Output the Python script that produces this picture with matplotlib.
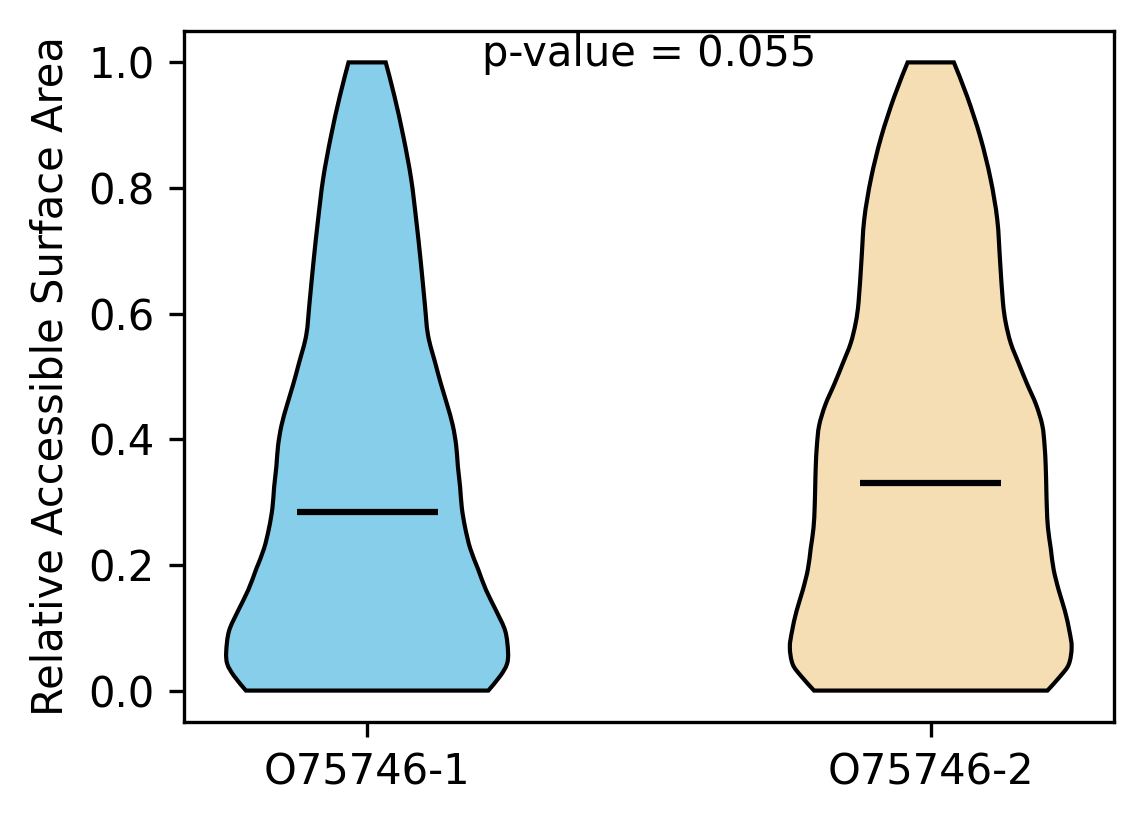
import matplotlib
matplotlib.use("Agg")
import matplotlib.pyplot as plt
from matplotlib.path import Path
from matplotlib.patches import PathPatch
import numpy as np

# labels / colours of the two groups
labels = ["O75746-1", "O75746-2"]
colors = ["#87CEEB", "#F5DEB3"]
medians = [0.285, 0.331]
p_value = 0.055

# violin outlines: RSA level -> half width (x units)
y_left = [0.0, 0.023, 0.042, 0.062, 0.095, 0.127, 0.160, 0.193, 0.226, 0.259,
          0.291, 0.324, 0.357, 0.390, 0.422, 0.455, 0.488, 0.521, 0.566, 0.619,
          0.684, 0.750, 0.815, 0.881, 0.946, 1.0]
hw_left = [0.215, 0.236, 0.248, 0.250, 0.245, 0.229, 0.211, 0.197, 0.183, 0.174,
           0.168, 0.165, 0.161, 0.158, 0.152, 0.142, 0.131, 0.121, 0.108, 0.102,
           0.095, 0.087, 0.078, 0.0645, 0.0485, 0.033]

y_right = [0.0, 0.023, 0.042, 0.069, 0.095, 0.127, 0.160, 0.193, 0.226, 0.259,
           0.291, 0.324, 0.357, 0.390, 0.422, 0.455, 0.488, 0.521, 0.553, 0.586,
           0.619, 0.684, 0.750, 0.815, 0.881, 0.946, 1.0]
hw_right = [0.207, 0.230, 0.245, 0.250, 0.246, 0.238, 0.227, 0.218, 0.213, 0.208,
            0.206, 0.205, 0.204, 0.202, 0.198, 0.187, 0.171, 0.156, 0.142, 0.133,
            0.128, 0.123, 0.118, 0.106, 0.088, 0.0645, 0.041]

profiles = [(y_left, hw_left), (y_right, hw_right)]
positions = [1, 2]


def smooth_side(pts):
    # catmull-rom through the read points, as cubic bezier path pieces
    pts = np.asarray(pts, dtype=float)
    ext = np.vstack([pts[0], pts, pts[-1]])
    verts, codes = [], []
    for i in range(1, len(ext) - 2):
        p0, p1, p2, p3 = ext[i - 1], ext[i], ext[i + 1], ext[i + 2]
        c1 = p1 + (p2 - p0) / 6.0
        c2 = p2 - (p3 - p1) / 6.0
        verts += [c1, c2, p2]
        codes += [Path.CURVE4] * 3
    return verts, codes


def violin_path(pos, yy, hw):
    yy = np.asarray(yy)
    hw = np.asarray(hw)
    left = np.column_stack([pos - hw, yy])
    right = np.column_stack([pos + hw, yy])[::-1]
    verts = [left[0]]
    codes = [Path.MOVETO]
    v, c = smooth_side(left)
    verts += v
    codes += c
    verts.append(right[0])
    codes.append(Path.LINETO)
    v, c = smooth_side(right)
    verts += v
    codes += c
    verts.append(left[0])
    codes.append(Path.CLOSEPOLY)
    return Path(verts, codes)


fig = plt.figure(figsize=(1144 / 300, 824 / 300), dpi=300)
ax = fig.add_axes([0.1608, 0.1238, 0.8129, 0.8386])

for pos, (yy, hw), c, med in zip(positions, profiles, colors, medians):
    patch = PathPatch(violin_path(pos, yy, hw), facecolor=c, edgecolor="black", linewidth=1)
    ax.add_patch(patch)
    ax.hlines(med, pos - 0.125, pos + 0.125, color="black", linewidth=1.5)

ax.set_xlim(0.675, 2.325)
ax.set_ylim(-0.05, 1.05)
ax.set_xticks(positions)
ax.set_xticklabels(labels)
ax.set_ylabel("Relative Accessible Surface Area")
ax.text(0.5, 0.936, f"p-value = {p_value:.3f}", transform=ax.transAxes,
        ha="center", va="bottom")

fig.savefig("out.png", dpi=300)
